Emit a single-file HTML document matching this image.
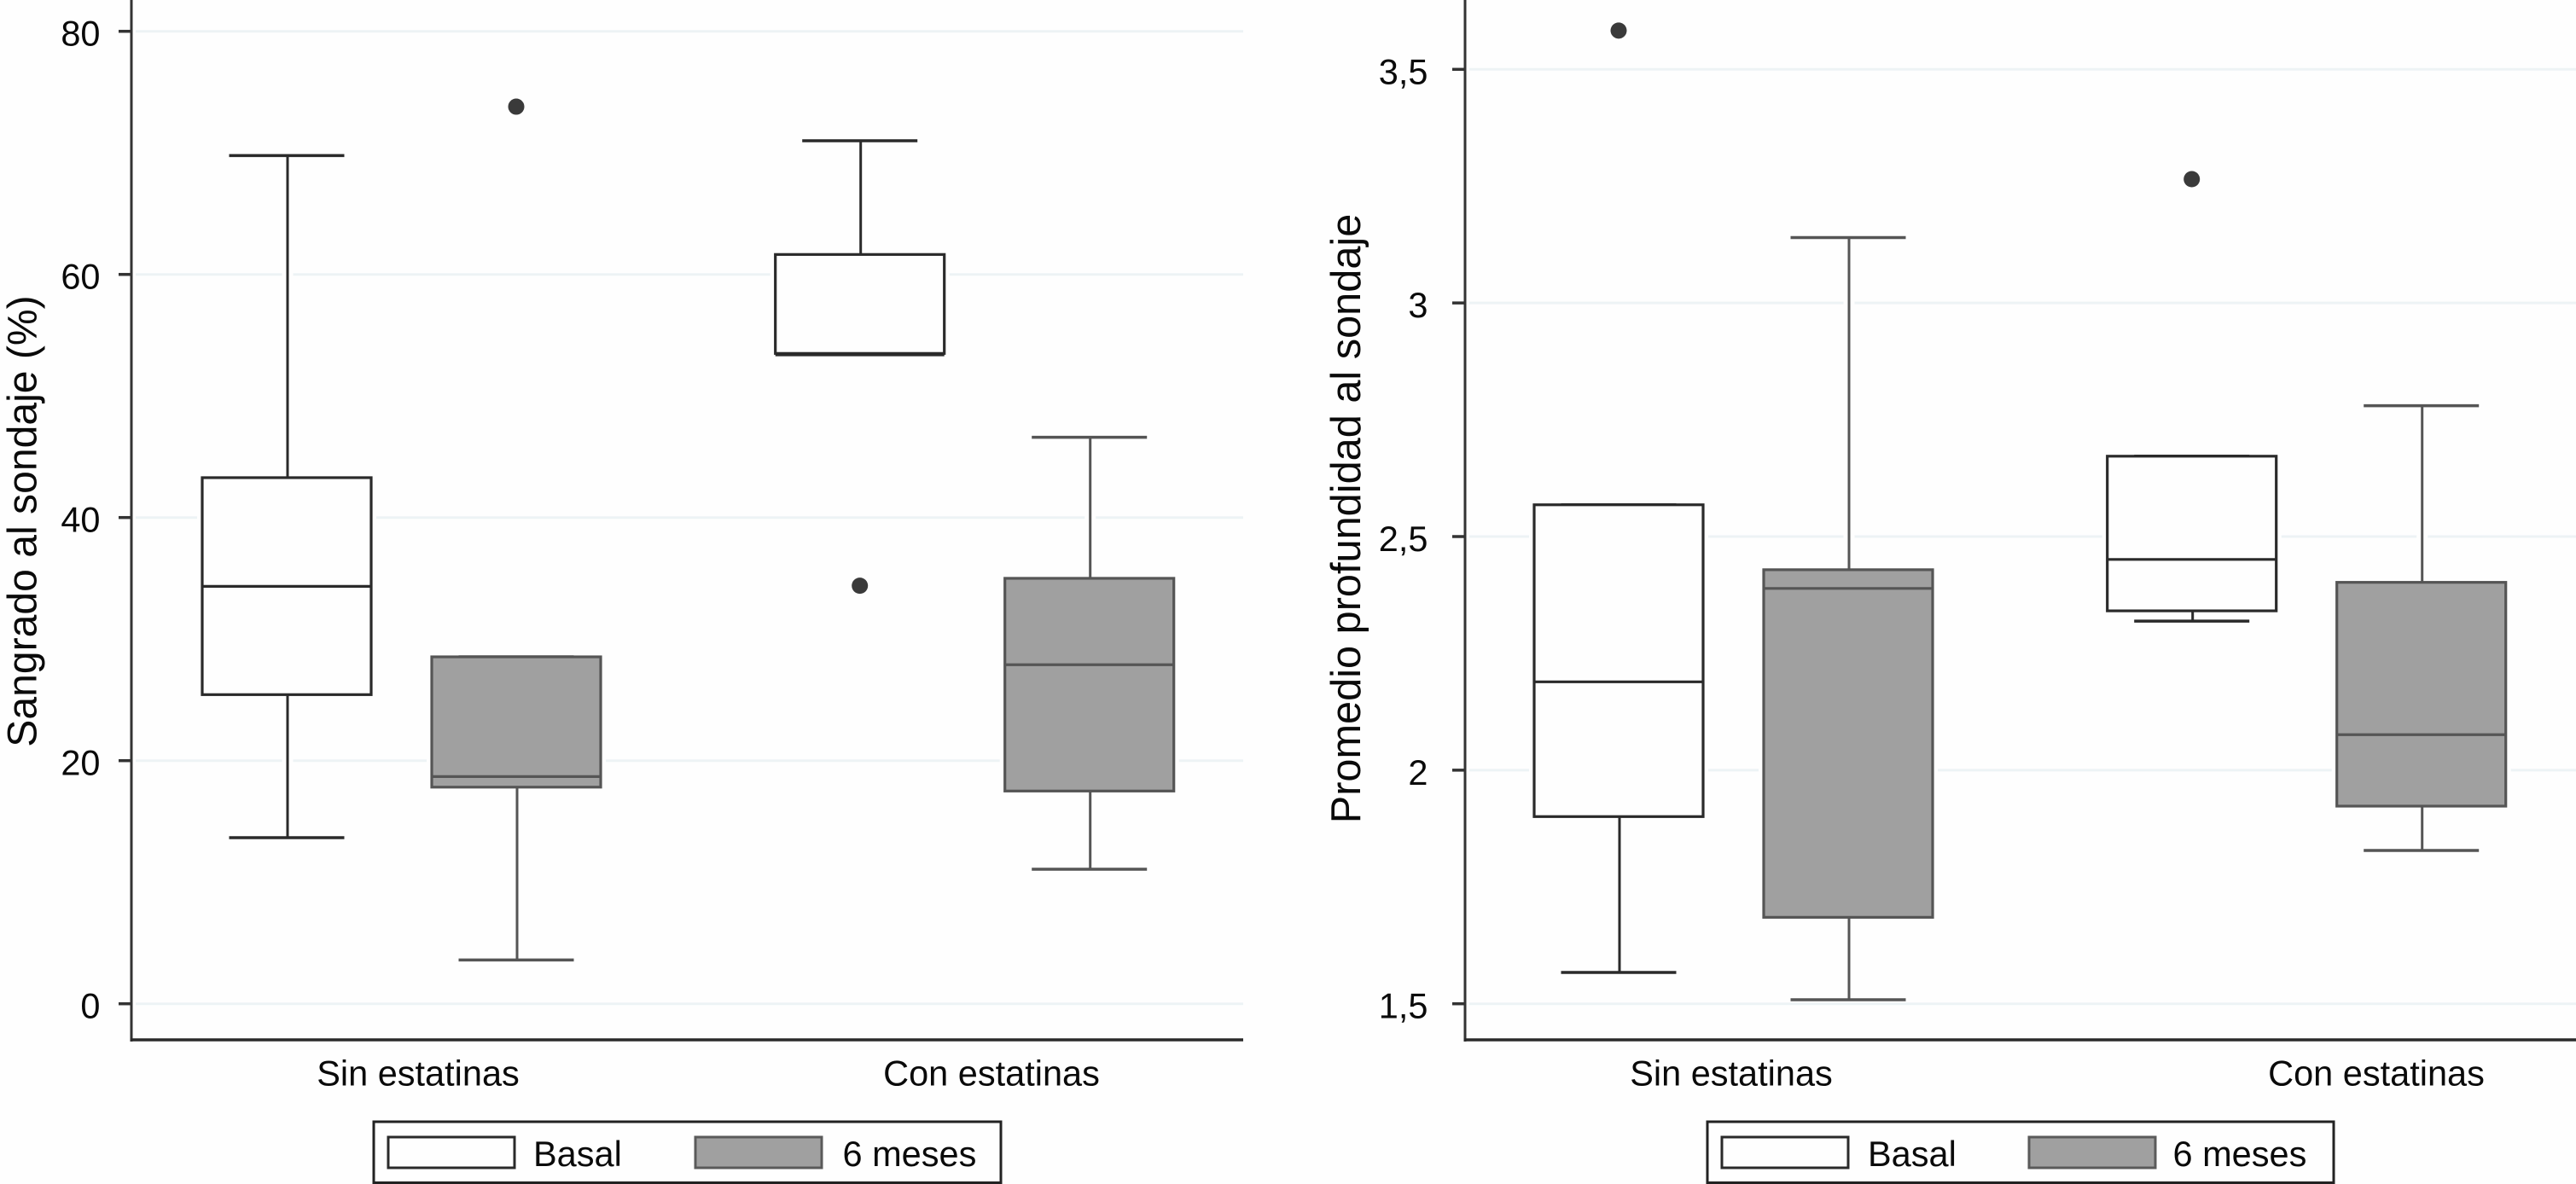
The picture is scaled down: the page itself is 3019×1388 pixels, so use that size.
<!DOCTYPE html>
<html lang="es">
<head>
<meta charset="utf-8">
<title>Sangrado y profundidad al sondaje</title>
<style>
html,body{margin:0;padding:0;background:#fefefe;}
svg{display:block;}
text{font-family:"Liberation Sans",Arial,sans-serif;fill:#0a0a0a;}
</style>
</head>
<body>
<svg id="figure" xmlns="http://www.w3.org/2000/svg" width="3019" height="1388" viewBox="0 0 3019 1388">
  <rect x="0" y="0" width="3019" height="1388" fill="#fefefe"/>

  <g id="panel-left">
    <text transform="translate(42.5,611) rotate(-90)" text-anchor="middle" font-size="48.1">Sangrado al sondaje (%)</text>
    <text x="490" y="1272.5" text-anchor="middle" font-size="41.5">Sin estatinas</text>
    <text x="1162" y="1272.5" text-anchor="middle" font-size="41.5">Con estatinas</text>
    <g>
      <rect x="438" y="1315" width="735" height="71.5" fill="#fefefe" stroke="#222" stroke-width="3"/>
      <rect x="455" y="1333" width="148" height="36" fill="#fefefe" stroke="#2a2a2a" stroke-width="3"/>
      <text x="625" y="1367" font-size="41.5">Basal</text>
      <rect x="815" y="1333" width="148" height="36" fill="#a0a0a0" stroke="#5a5a5a" stroke-width="3"/>
      <text x="987.5" y="1367" font-size="41.5">6 meses</text>
    </g>
  </g>

  <g id="panel-right">
    <text transform="translate(1594,608) rotate(-90)" text-anchor="middle" font-size="48.7">Promedio profundidad al sondaje</text>
    <text x="2029" y="1272.5" text-anchor="middle" font-size="41.5">Sin estatinas</text>
    <text x="2785" y="1272.5" text-anchor="middle" font-size="41.5">Con estatinas</text>
    <g>
      <rect x="2001" y="1315" width="734" height="71.5" fill="#fefefe" stroke="#222" stroke-width="3"/>
      <rect x="2018" y="1333" width="148" height="36" fill="#fefefe" stroke="#2a2a2a" stroke-width="3"/>
      <text x="2189" y="1367" font-size="41.5">Basal</text>
      <rect x="2378" y="1333" width="148" height="36" fill="#a0a0a0" stroke="#5a5a5a" stroke-width="3"/>
      <text x="2546.5" y="1367" font-size="41.5">6 meses</text>
    </g>
  </g>
</svg>

<script>
// Groups: [Sin estatinas, Con estatinas]
const categories = ['Sin estatinas', 'Con estatinas'];
const seriesNames = ['Basal', '6 meses'];

// Sangrado al sondaje (%)
const sangradoTicks = [0, 20, 40, 60, 80];
const sangradoBasalWhiskerLow = [13.66, 53.5];
const sangradoBasalQ1 = [25.43, 53.5];
const sangradoBasalMedian = [34.34, 53.38];
const sangradoBasalQ3 = [43.28, 61.64];
const sangradoBasalWhiskerHigh = [69.78, 71.0];
const sangradoBasalOutliers = [null, 34.39];
const sangrado6mWhiskerLow = [3.6, 11.07];
const sangrado6mQ1 = [17.82, 17.5];
const sangrado6mMedian = [18.69, 27.89];
const sangrado6mQ3 = [28.54, 35.0];
const sangrado6mWhiskerHigh = [28.54, 46.6];
const sangrado6mOutliers = [73.8, null];

// Promedio profundidad al sondaje
const profundidadTicks = [1.5, 2, 2.5, 3, 3.5];
const profundidadBasalWhiskerLow = [1.567, 2.319];
const profundidadBasalQ1 = [1.9006, 2.341];
const profundidadBasalMedian = [2.189, 2.451];
const profundidadBasalQ3 = [2.568, 2.672];
const profundidadBasalWhiskerHigh = [2.568, 2.672];
const profundidadBasalOutliers = [3.583, 3.265];
const profundidad6mWhiskerLow = [1.5086, 1.828];
const profundidad6mQ1 = [1.685, 1.923];
const profundidad6mMedian = [2.389, 2.076];
const profundidad6mQ3 = [2.429, 2.402];
const profundidad6mWhiskerHigh = [3.14, 2.78];
const profundidad6mOutliers = [null, null];

const NS = 'http://www.w3.org/2000/svg';
const AXIS_BOTTOM = 1219;
const BOX_WIDTH = 198;
const CAP_WIDTH = 135;
const SERIES_OFFSET = 134.5;
const GROUP_STEP = 671.7;
const WHISKER_SHIFT = 1;

function node(parent, tag, attrs) {
  const el = document.createElementNS(NS, tag);
  for (const k in attrs) el.setAttribute(k, attrs[k]);
  parent.appendChild(el);
  return el;
}

function drawPanel(cfg) {
  const layer = document.getElementById(cfg.id);
  const yScale = v => cfg.yZero - (v - cfg.yBase) * cfg.pxPerUnit;
  const xScale = (group, series) => cfg.firstGroup + group * GROUP_STEP + (series === 0 ? -SERIES_OFFSET : SERIES_OFFSET);

  // gridlines
  cfg.ticks.forEach(t => {
    const grid = node(layer, 'line', {x1: cfg.axisX + 5, x2: cfg.plotRight, y1: yScale(t), y2: yScale(t), stroke: '#edf3f5', 'stroke-width': 3});
    
    
  });

  // white halos that interrupt the gridlines around marks
  cfg.series.forEach((s, si) => {
    categories.forEach((c, g) => {
      const x = xScale(g, si);
      const haloLine = node(layer, 'line', {x1: x + WHISKER_SHIFT, x2: x + WHISKER_SHIFT, y1: yScale(s.high[g]), y2: yScale(s.low[g]), stroke: '#fefefe', 'stroke-width': 13});
      
      
      const haloBox = node(layer, 'rect', {x: x - BOX_WIDTH / 2 - 6, y: yScale(s.q3[g]) - 6, width: BOX_WIDTH + 12, height: yScale(s.q1[g]) - yScale(s.q3[g]) + 12, fill: '#fefefe'});
      
      
    });
  });

  // y axis with ticks and labels
  const yAxis = node(layer, 'line', {x1: cfg.axisX, x2: cfg.axisX, y1: 0, y2: AXIS_BOTTOM + 2, stroke: '#333', 'stroke-width': 3});
  
  
  const xAxis = node(layer, 'line', {x1: cfg.axisX - 1.5, x2: cfg.plotRight, y1: AXIS_BOTTOM, y2: AXIS_BOTTOM, stroke: '#2a2a2a', 'stroke-width': 3.5});
  
  

  cfg.ticks.forEach(t => {
    const mark = node(layer, 'line', {x1: cfg.axisX - 15, x2: cfg.axisX, y1: yScale(t), y2: yScale(t), stroke: '#333', 'stroke-width': 3.5});
    
    
    const label = node(layer, 'text', {x: cfg.labelX, y: yScale(t) + 17, 'text-anchor': 'end', 'font-size': 41.5});
    
    
    label.textContent = String(t).replace('.', ',');
  });

  // boxes, whiskers, caps, medians, outliers
  cfg.series.forEach((s, si) => {
    categories.forEach((c, g) => {
      const x = xScale(g, si);

      const whisker = node(layer, 'line', {x1: x + WHISKER_SHIFT, x2: x + WHISKER_SHIFT, y1: yScale(s.high[g]), y2: yScale(s.low[g]), stroke: s.line, 'stroke-width': 3});
      
      

      const capHigh = node(layer, 'line', {x1: x - CAP_WIDTH / 2, x2: x + CAP_WIDTH / 2, y1: yScale(s.high[g]), y2: yScale(s.high[g]), stroke: s.line, 'stroke-width': 3.5});
      
      

      const capLow = node(layer, 'line', {x1: x - CAP_WIDTH / 2, x2: x + CAP_WIDTH / 2, y1: yScale(s.low[g]), y2: yScale(s.low[g]), stroke: s.line, 'stroke-width': 3.5});
      
      

      const box = node(layer, 'rect', {x: x - BOX_WIDTH / 2, y: yScale(s.q3[g]), width: BOX_WIDTH, height: yScale(s.q1[g]) - yScale(s.q3[g]), fill: s.fill, stroke: s.line, 'stroke-width': 3.2});
      
      

      const median = node(layer, 'line', {x1: x - BOX_WIDTH / 2, x2: x + BOX_WIDTH / 2, y1: yScale(s.median[g]), y2: yScale(s.median[g]), stroke: s.line, 'stroke-width': 3.2});
      
      

      if (s.outliers[g] !== null) {
        const point = node(layer, 'circle', {cx: x, cy: yScale(s.outliers[g]), r: 9.5, fill: '#3a3a3a'});
        
        
      }
    });
  });
}

drawPanel({
  id: 'panel-left', axisX: 154, labelX: 117.5, plotRight: 1457, firstGroup: 470.5,
  yZero: 1176.7, yBase: 0, pxPerUnit: 14.25,
  ticks: sangradoTicks,
  series: [
    {name: seriesNames[0], fill: '#fefefe', line: '#2a2a2a', low: sangradoBasalWhiskerLow, q1: sangradoBasalQ1, median: sangradoBasalMedian, q3: sangradoBasalQ3, high: sangradoBasalWhiskerHigh, outliers: sangradoBasalOutliers},
    {name: seriesNames[1], fill: '#a0a0a0', line: '#555555', low: sangrado6mWhiskerLow, q1: sangrado6mQ1, median: sangrado6mMedian, q3: sangrado6mQ3, high: sangrado6mWhiskerHigh, outliers: sangrado6mOutliers}
  ]
});

drawPanel({
  id: 'panel-right', axisX: 1717, labelX: 1673.5, plotRight: 3019, firstGroup: 2031.5,
  yZero: 1176.7, yBase: 1.5, pxPerUnit: 547.7,
  ticks: profundidadTicks,
  series: [
    {name: seriesNames[0], fill: '#fefefe', line: '#2a2a2a', low: profundidadBasalWhiskerLow, q1: profundidadBasalQ1, median: profundidadBasalMedian, q3: profundidadBasalQ3, high: profundidadBasalWhiskerHigh, outliers: profundidadBasalOutliers},
    {name: seriesNames[1], fill: '#a0a0a0', line: '#555555', low: profundidad6mWhiskerLow, q1: profundidad6mQ1, median: profundidad6mMedian, q3: profundidad6mQ3, high: profundidad6mWhiskerHigh, outliers: profundidad6mOutliers}
  ]
});
</script>
</body>
</html>
